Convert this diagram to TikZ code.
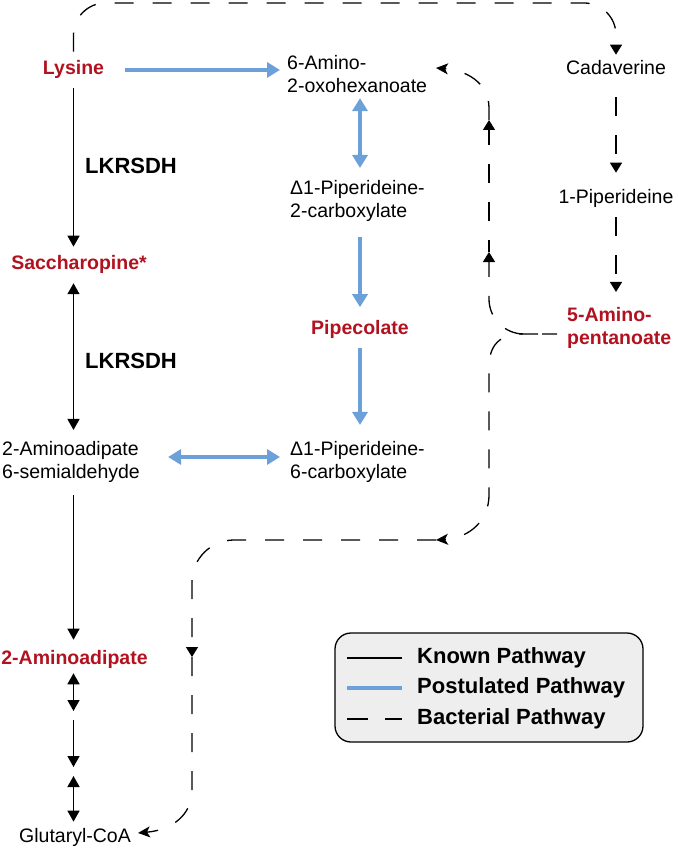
\documentclass[tikz,border=0pt]{standalone}
\usepackage{fontspec}
\setmainfont{Liberation Sans}
\usetikzlibrary{arrows.meta}
\definecolor{pathred}{RGB}{178,18,32}
\definecolor{postblue}{RGB}{108,160,216}
\definecolor{legfill}{RGB}{238,238,238}
\begin{document}
\begin{tikzpicture}[x=1pt,y=-1pt,
  lbl/.style={inner sep=0pt, font=\fontsize{19.5}{22.5}\selectfont},
  redlbl/.style={inner sep=0pt, font=\fontsize{19.5}{22.5}\selectfont\bfseries, text=pathred},
  enz/.style={inner sep=0pt, font=\fontsize{22}{26}\selectfont\bfseries},
  legtxt/.style={inner sep=0pt, font=\fontsize{22}{26}\selectfont\bfseries},
  known/.style={line width=1.4pt, -{Triangle[length=11pt,width=12pt]}},
  knownboth/.style={line width=1.4pt, {Triangle[length=11pt,width=12pt]}-{Triangle[length=11pt,width=12pt]}},
  post/.style={line width=3.5pt, draw=postblue, -{Triangle[length=13pt,width=15pt]}},
  postboth/.style={line width=3.5pt, draw=postblue, {Triangle[length=13pt,width=15pt]}-{Triangle[length=13pt,width=15pt]}},
  bact/.style={line width=1.3pt, dash pattern=on 19pt off 19pt},
  vtip/.style={-{Triangle[length=10pt,width=12pt]}},
  ctip/.style={-{Stealth[length=12pt,width=11pt,inset=3pt]}}
]
\useasboundingbox (0,0) rectangle (677,850);

% nodes
\node[redlbl, anchor=base] (lys) at (73.5,75) {Lysine};
\node[redlbl, anchor=base] (sac) at (79,269) {Saccharopine*};
\node[lbl, anchor=west, align=left] (semi) at (2,462) {2-Aminoadipate\\6-semialdehyde};
\node[redlbl, anchor=base] (aa) at (74.5,664) {2-Aminoadipate};
\node[lbl, anchor=base] (glut) at (75,842) {Glutaryl-CoA};
\node[enz, anchor=base west] (e1) at (85,174) {LKRSDH};
\node[enz, anchor=base west] (e2) at (85,368) {LKRSDH};
\node[lbl, anchor=west, align=left] (oxo) at (287,74) {6-Amino-\\2-oxohexanoate};
\node[lbl, anchor=west, align=left] (p2c) at (290,201) {Δ1-Piperideine-\\2-carboxylate};
\node[redlbl, anchor=base] (pip) at (360,334) {Pipecolate};
\node[lbl, anchor=west, align=left] (p6c) at (290,462) {Δ1-Piperideine-\\6-carboxylate};
\node[lbl, anchor=base] (cad) at (616,75) {Cadaverine};
\node[lbl, anchor=base] (pipd) at (616,204) {1-Piperideine};
\node[redlbl, anchor=west, align=left] (ap) at (567,328) {5-Amino-\\pentanoate};

% helper coordinates
\coordinate (colB) at (360,0);
\coordinate (k1) at (73.5,716);
\coordinate (k2) at (73.5,772);
\coordinate (topr) at (616,3);
\coordinate (j) at ([xshift=-10pt,yshift=-6pt]ap.west);
\coordinate (u1) at (489,252);
\coordinate (u2) at (489,120);
\coordinate (u3) at (436,68);
\coordinate (l1) at (436,540);
\coordinate (l2) at (192,657);

% known pathway
\draw[known, shorten <=9pt, shorten >=8pt] (lys.south) -- (lys.south |- sac.north);
\draw[knownboth, shorten <=10pt, shorten >=11.5pt] (lys.south |- sac.south) -- (lys.south |- semi.north);
\draw[known, shorten <=12.5pt, shorten >=10pt] (lys.south |- semi.south) -- (lys.south |- aa.north);
\draw[knownboth, shorten <=5pt, shorten >=5pt] (lys.south |- aa.south) -- (k1);
\draw[known, shorten <=4pt, shorten >=5pt] (k1) -- (k2);
\draw[knownboth, shorten <=4pt, shorten >=6pt] (k2) -- (lys.south |- glut.north);

% postulated pathway
\draw[post, shorten <=21pt, shorten >=7pt] (lys.east) -- (lys.east -| oxo.west);
\draw[postboth, shorten <=5.5pt, shorten >=12.5pt] (oxo.south -| colB) -- (p2c.north -| colB);
\draw[post, shorten <=15.5pt, shorten >=12.5pt] (p2c.south -| colB) -- (pip.north);
\draw[post, shorten <=10pt, shorten >=16.5pt] (pip.south) -- (p6c.north -| colB);
\draw[postboth, shorten <=28pt, shorten >=10pt] ([yshift=5pt]semi.east) -- ([yshift=5pt]semi.east -| p6c.west);

% bacterial pathway
\draw[bact, vtip, rounded corners=32pt] ([yshift=9pt]lys.north) |- (topr) -- ([yshift=6pt]cad.north);
\draw[bact, vtip, shorten <=22pt, shorten >=17pt] (cad.south) -- (pipd.north);
\draw[bact, vtip, shorten <=9pt, shorten >=15.5pt] (pipd.south) -- (pipd.south |- ap.north);
\draw[bact, vtip, rounded corners=35pt, dash phase=4pt] (j) -| (u1);
\draw[bact, vtip, dash phase=7pt] (u1) -- (u2);
\draw[bact, ctip] (u2) -- (489,108) .. controls (489,82) and (465,70) .. (u3);
\draw[bact, ctip, dash phase=19pt] (j) -- (522,334) .. controls (500,334) and (489,345) .. (489,367) -- (489,495) .. controls (489,520) and (470,538) .. (l1);
\draw[bact, vtip, rounded corners=42pt] (l1) -| (l2);
\draw[bact, ctip] (l2) -- (192,790) .. controls (192,815) and (172,830) .. ([xshift=7pt,yshift=4pt]glut.east);

% legend
\node[draw, line width=1.3pt, rounded corners=16pt, fill=legfill, minimum width=308pt, minimum height=109pt, inner sep=0pt] (leg) at (489,687.5) {};
\node[legtxt, anchor=west] (lk) at (417,658) {Known Pathway};
\node[legtxt, anchor=west] (lp) at (417,688) {Postulated Pathway};
\node[legtxt, anchor=west] (lb) at (417,719) {Bacterial Pathway};
\draw[line width=1.4pt] ([xshift=-15pt]lk.west) -- ([xshift=-70pt]lk.west);
\draw[line width=3.5pt, draw=postblue] ([xshift=-15pt]lp.west) -- ([xshift=-70pt]lp.west);
\draw[line width=1.3pt, dash pattern=on 21pt off 17pt] ([xshift=-70pt]lb.west) -- ([xshift=-15pt]lb.west);
\end{tikzpicture}
\end{document}
